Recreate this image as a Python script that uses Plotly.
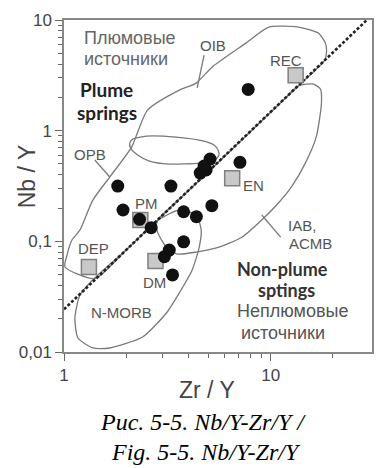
import plotly.graph_objects as go

# ---------------- data ----------------
# sample points (black circles)
circ_x = [1.82, 3.29, 1.93, 2.32, 2.64, 3.79, 4.37, 5.19, 3.79, 3.23, 3.06, 3.35,
          7.78, 7.10, 5.09, 4.76, 4.56, 4.87]
circ_y = [0.316, 0.316, 0.192, 0.158, 0.133, 0.185, 0.167, 0.210, 0.099, 0.0834, 0.0726, 0.0497,
          2.36, 0.517, 0.554, 0.479, 0.414, 0.441]

# reservoirs (grey squares)
ref_names = ["REC", "EN", "PM", "DM", "DEP"]
ref_x = [13.2, 6.51, 2.34, 2.77, 1.32]
ref_y = [3.16, 0.371, 0.156, 0.0664, 0.0586]

# plume / non-plume dividing line
div_x = [1.0, 29.2]
div_y = [0.0243, 10.0]

# fields
oib_x = [18.2, 14, 10, 7, 5, 3, 2, 1.41, 1.011, 1.034, 1.093, 1.194, 1.379, 1.664, 2.123,
         2.535, 3.612, 4.36, 5.20, 7.58, 9.78, 13.63, 17.0, 18.4, 18.6, 18.2]
oib_y = [4.3, 2.67, 1.47, 0.776, 0.427, 0.172, 0.0836, 0.046, 0.0586, 0.0751, 0.1028, 0.1265,
         0.236, 0.381, 0.711, 1.535, 2.327, 2.69, 3.75, 6.18, 8.63, 8.63, 7.62, 6.18, 5.02, 4.3]

opb_x = [2.08, 2.15, 2.51, 3.49, 4.76, 5.32, 5.56, 5.62, 5.38, 4.51, 3.23, 2.59, 2.27, 2.10, 2.08]
opb_y = [0.773, 0.839, 0.894, 0.875, 0.805, 0.741, 0.668, 0.603, 0.543, 0.509, 0.499, 0.531,
         0.603, 0.697, 0.773]

iab_x = [2.85, 4, 6, 8, 11, 13.63, 16.1, 17.4, 17.6, 16.6, 14.7, 12.6, 10.9, 9.05, 7.25, 5.62,
         4.36, 3.53, 3.16, 2.96, 2.80, 2.85]
iab_y = [0.157, 0.287, 0.590, 0.984, 1.74, 2.54, 2.64, 2.38, 1.77, 0.875, 0.509, 0.310, 0.222,
         0.156, 0.109, 0.0888, 0.080, 0.0767, 0.087, 0.103, 0.132, 0.157]

nmorb_x = [1.379, 2.0, 2.80, 3.61, 4.36, 4.61, 4.51, 4.17, 3.61, 3.13, 2.40, 1.664, 1.379,
           1.168, 1.129, 1.194, 1.379]
nmorb_y = [0.045, 0.0836, 0.152, 0.192, 0.173, 0.1265, 0.0888, 0.0551, 0.0341, 0.0225, 0.01366,
           0.01087, 0.01087, 0.01338, 0.0203, 0.0327, 0.045]

# leader lines
lead_opb_x = [1.41, 1.664]
lead_opb_y = [0.543, 0.381]
lead_oib_x = [4.76, 4.41]
lead_oib_y = [4.82, 2.43]
lead_iab_x = [9.05, 11.17]
lead_iab_y = [0.173, 0.109]

# ticks
x_tickvals = [1, 10]
x_ticktext = ["1", "10"]
y_tickvals = [0.01, 0.1, 1, 10]
y_ticktext = ["0,01", "0,1", "1", "10"]
minor_digits = [2, 3, 4, 5, 6, 7, 8, 9]
x_minor = minor_digits + [20]
y_minor = [d * 10 ** e for e in (-2, -1, 0) for d in minor_digits]

# ---------------- figure ----------------
FIELD = dict(color="#7a7a7a", width=1.3)
fig = go.Figure()
for xs, ys in [(oib_x, oib_y), (opb_x, opb_y), (iab_x, iab_y), (nmorb_x, nmorb_y)]:
    fig.add_trace(go.Scatter(x=xs, y=ys, mode="lines", line=dict(**FIELD, shape="spline", smoothing=0.6),
                             hoverinfo="skip", showlegend=False))
for xs, ys in [(lead_opb_x, lead_opb_y), (lead_oib_x, lead_oib_y), (lead_iab_x, lead_iab_y)]:
    fig.add_trace(go.Scatter(x=xs, y=ys, mode="lines", line=FIELD, hoverinfo="skip", showlegend=False))

fig.add_trace(go.Scatter(x=div_x, y=div_y, mode="lines",
                         line=dict(color="#222", width=2.6, dash="3px,2px"), showlegend=False))
fig.add_trace(go.Scatter(x=ref_x, y=ref_y, mode="markers", text=ref_names,
                         marker=dict(symbol="square", size=15, color="#c9c9c9",
                                     line=dict(color="#808080", width=1.5)), showlegend=False))
fig.add_trace(go.Scatter(x=circ_x, y=circ_y, mode="markers",
                         marker=dict(symbol="circle", size=13, color="#111"), showlegend=False))

L, T, R, B = 64, 20, 374, 352


def P(px, py):
    return (px - L) / (R - L), (B - py) / (B - T)


SANS = "Liberation Sans, Arial, sans-serif"
anns = []


def txt(s, px, py, size=15, color="#555", family=SANS, xanchor="center", angle=0):
    x, y = P(px, py)
    anns.append(dict(text=s, x=x, y=y, xref="paper", yref="paper", showarrow=False,
                     xanchor=xanchor, yanchor="middle", textangle=angle,
                     font=dict(size=size, color=color, family=family)))


for s, px, py in [("OIB", 214, 45), ("REC", 287, 60), ("OPB", 90, 154), ("PM", 147, 203),
                  ("DEP", 94, 249), ("DM", 155, 282), ("EN", 255, 185), ("N-MORB", 122, 312)]:
    txt(s, px, py)
txt("IAB,", 287, 225, xanchor="left")
txt("ACMB", 288, 244, xanchor="left")

txt("Плюмовые", 82, 38, size=18, color="#666", xanchor="left")
txt("источники", 82, 59, size=18, color="#666", xanchor="left")
txt("<b>Plume</b>", 78, 90, size=19, color="#222", family="Lato", xanchor="left")
txt("<b>springs</b>", 75, 112, size=19, color="#222", family="Lato", xanchor="left")
txt("<b>Non-plume</b>", 284, 269, size=18, color="#333", family="Lato")
txt("<b>sptings</b>", 288, 290, size=18, color="#333", family="Lato")
txt("Неплюмовые", 294, 311, size=18, color="#555")
txt("источники", 284, 333, size=18, color="#555")

txt("Nb / Y", 27, 176, size=23, color="#444", angle=-90)
txt("Zr / Y", 208, 390, size=23, color="#444")
txt("<i>Рис. 5-5. Nb/Y-Zr/Y /</i>", 204, 422, size=24, color="#000", family="Liberation Serif, serif")
txt("<i>Fig. 5-5. Nb/Y-Zr/Y</i>", 207, 452, size=24, color="#000", family="Liberation Serif, serif")

axis_common = dict(type="log", showgrid=False, zeroline=False, showline=True, linecolor="#888",
                   linewidth=1.5, mirror=True, ticks="outside", ticklen=7, tickwidth=1.3,
                   tickcolor="#666", tickfont=dict(size=17, color="#444", family=SANS))

fig.update_layout(
    width=377, height=468, margin=dict(l=L, r=377 - R, t=T, b=468 - B),
    paper_bgcolor="white", plot_bgcolor="white", showlegend=False,
    xaxis=dict(**axis_common, range=[0, 1.490], tickvals=x_tickvals, ticktext=x_ticktext,
               minor=dict(tickvals=x_minor, ticks="outside", ticklen=4, tickcolor="#666", showgrid=False)),
    yaxis=dict(**axis_common, range=[-2, 1], tickvals=y_tickvals, ticktext=y_ticktext,
               minor=dict(tickvals=y_minor, ticks="outside", ticklen=4, tickcolor="#666", showgrid=False)),
    annotations=anns,
)

fig.write_html("out.html")
